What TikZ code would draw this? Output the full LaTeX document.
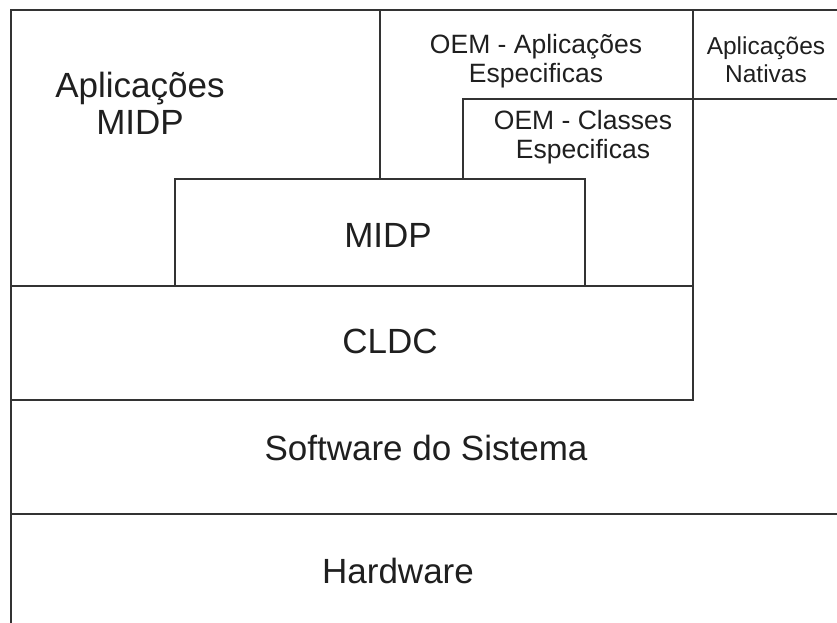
\documentclass[tikz,border=0pt]{standalone}
\usepackage{fontspec}
\setmainfont{Liberation Sans}
\begin{document}
\begin{tikzpicture}[x=1pt, y=-1pt,
  edge/.style={line width=1.3pt, draw=black!80, line cap=rect},
  big/.style={font=\fontsize{35}{37}\selectfont, align=center, anchor=base, text=black!88, inner sep=0pt},
  mid/.style={font=\fontsize{26.5}{29}\selectfont, align=center, anchor=base, text=black!88, inner sep=0pt},
  small/.style={font=\fontsize{24.5}{28}\selectfont, align=center, anchor=base, text=black!88, inner sep=0pt}]
  \useasboundingbox (0,0) rectangle (837,623);
  % outer frame (top and left)
  \draw[edge] (837,10) -- (11,10) -- (11,623);
  % separator between MIDP apps and OEM apps
  \draw[edge] (380,10) -- (380,179);
  % MIDP block
  \draw[edge] (175,286) -- (175,179) -- (585,179) -- (585,286);
  % OEM classes block and native apps bottom edge
  \draw[edge] (463,179) -- (463,99) -- (837,99);
  % right side of OEM / CLDC column
  \draw[edge] (693,10) -- (693,400);
  % CLDC layer
  \draw[edge] (11,286) -- (693,286);
  \draw[edge] (11,400) -- (693,400);
  % system software / hardware boundary
  \draw[edge] (11,514) -- (837,514);

  % labels (multi-line labels are placed by the baseline of their last line)
  \node[big] (appmidp) at (140,135) {Aplicações\\MIDP};
  \node[big] (midp) at (388,247) {MIDP};
  \node[big] (cldc) at (390,353) {CLDC};
  \node[big] (sw) at (426,460) {Software do Sistema};
  \node[big] (hw) at (398,583) {Hardware};
  \node[mid] (oemapp) at (536,83) {OEM - Aplicações\\Especificas};
  \node[mid] (oemcls) at (583,158) {OEM - Classes\\Especificas};
  \node[small] (nativ) at (766,83) {Aplicações\\Nativas};
\end{tikzpicture}
\end{document}
